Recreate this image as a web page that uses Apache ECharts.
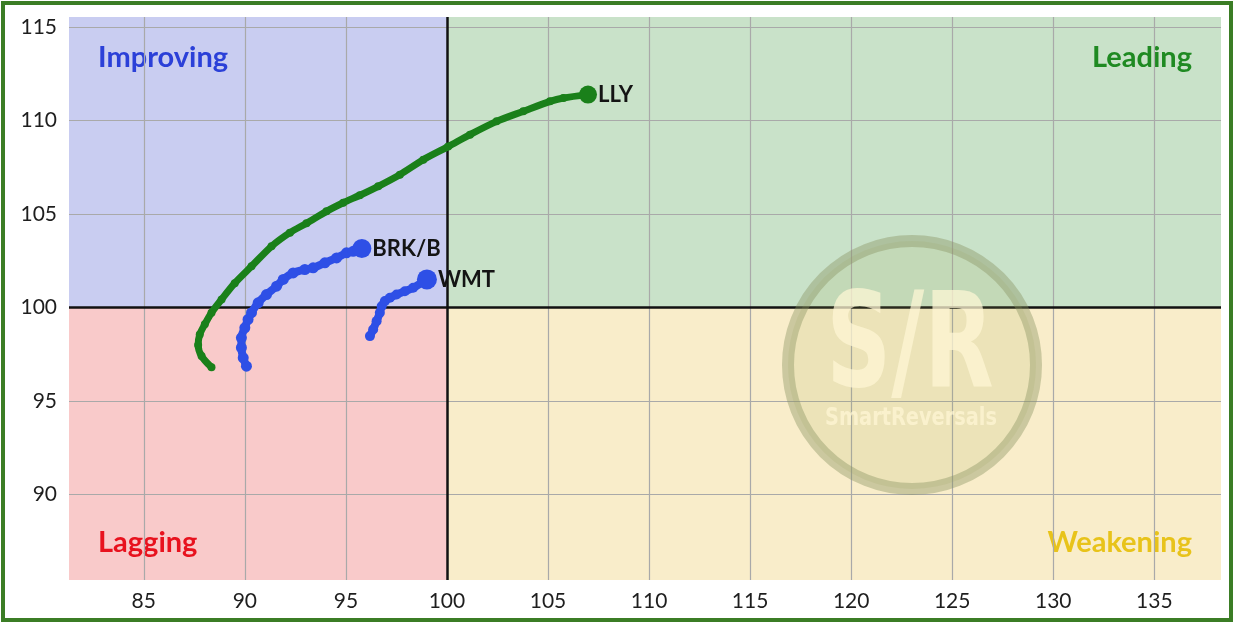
<!DOCTYPE html>
<html>
<head>
<meta charset="utf-8">
<script src="https://cdn.jsdelivr.net/npm/echarts@6/dist/echarts.min.js"></script>
<style>
html,body{margin:0;padding:0;background:#fff;}
#chart{width:1234px;height:624px;}
</style>
</head>
<body>
<div id="chart"></div>
<script>
// ---- data ----
const xTicks = [85, 90, 95, 100, 105, 110, 115, 120, 125, 130, 135];
const yTicks = [90, 95, 100, 105, 110, 115];
const quadrantNames = ['Improving', 'Leading', 'Lagging', 'Weakening'];
const center = 100;

const llyX = [88.35, 87.86, 87.69, 87.77, 88.02, 88.35, 88.85, 89.5, 90.33, 91.32, 92.23, 93.05, 94.04, 94.87, 95.69, 96.6, 97.67, 98.83, 100.06, 101.14, 102.46, 103.78, 105.1, 105.76, 106.98];
const llyY = [96.8, 97.4, 98.0, 98.56, 99.1, 99.72, 100.43, 101.3, 102.2, 103.27, 104.0, 104.5, 105.14, 105.6, 106.0, 106.48, 107.1, 107.9, 108.6, 109.24, 109.95, 110.49, 111.02, 111.2, 111.38];

const brkX = [90.08, 89.92, 89.83, 89.83, 90.0, 90.16, 90.33, 90.66, 91.07, 91.57, 91.9, 92.39, 92.97, 93.38, 93.96, 94.54, 95.03, 95.36, 95.79];
const brkY = [96.86, 97.31, 97.85, 98.38, 98.91, 99.36, 99.72, 100.25, 100.69, 101.14, 101.5, 101.85, 102.03, 102.12, 102.39, 102.65, 102.92, 103.0, 103.15];

const wmtX = [96.19, 96.35, 96.52, 96.68, 96.77, 96.93, 97.18, 97.51, 97.92, 98.33, 99.01];
const wmtY = [98.47, 98.82, 99.27, 99.72, 100.07, 100.34, 100.52, 100.69, 100.87, 101.05, 101.5];

// ---- axis extents (layout) ----
const X_MIN = 81.3, X_MAX = 138.3, Y_MIN = 85.43, Y_MAX = 115.53;
const FONT = 'Lato, "Noto Sans", sans-serif';

function pairs(xs, ys) { return xs.map((x, i) => [x, ys[i]]); }

function trail(name, xs, ys, color, lw, dot, endDot, smooth) {
  const d = pairs(xs, ys);
  return {
    type: 'line', name: name, z: 5, smooth: smooth,
    data: d.map((p, i) => i === d.length - 1 ? {
      value: p, symbolSize: endDot,
      label: { show: true, position: 'right', distance: 1, formatter: name,
        color: '#141414', fontFamily: FONT, fontWeight: 'bold', fontSize: 22 }
    } : { value: p }),
    symbol: 'circle', symbolSize: dot, showSymbol: true,
    lineStyle: { color: color, width: lw },
    itemStyle: { color: color },
    emphasis: { disabled: true },
    animation: false
  };
}

const qColors = {
  Improving: { bg: '#c9cdf1', fg: '#2b40d8' },
  Leading: { bg: '#c9e2c9', fg: '#1f8a22' },
  Lagging: { bg: '#f9caca', fg: '#e8121e' },
  Weakening: { bg: '#f9edca', fg: '#e8c31a' }
};
const qLabelBase = { show: true, fontFamily: FONT, fontWeight: 'bold', fontSize: 29, distance: 29 };

const chart = echarts.init(document.getElementById('chart'), null, { renderer: 'canvas' });
chart.setOption({
  animation: false,
  backgroundColor: '#ffffff',
  grid: { left: 69, right: 13, top: 17, bottom: 44, containLabel: false },
  xAxis: {
    type: 'value', min: X_MIN, max: X_MAX,
    axisLine: { show: false }, axisTick: { show: false }, splitLine: { show: false },
    axisLabel: { customValues: xTicks, color: '#1e1e1e', fontFamily: FONT, fontSize: 21, margin: 11 }
  },
  yAxis: {
    type: 'value', min: Y_MIN, max: Y_MAX,
    axisLine: { show: false }, axisTick: { show: false }, splitLine: { show: false },
    axisLabel: { customValues: yTicks, color: '#1e1e1e', fontFamily: FONT, fontSize: 21, margin: 12 }
  },
  series: [
    {
      type: 'scatter', data: [], z: 1, silent: true,
      markArea: {
        silent: true,
        data: [
          [{ coord: [X_MIN, center], itemStyle: { color: qColors.Improving.bg },
             label: Object.assign({}, qLabelBase, { position: 'insideTopLeft', color: qColors.Improving.fg, formatter: quadrantNames[0], offset: [0, -3] }) },
           { coord: [center, Y_MAX] }],
          [{ coord: [center, center], itemStyle: { color: qColors.Leading.bg },
             label: Object.assign({}, qLabelBase, { position: 'insideTopRight', color: qColors.Leading.fg, formatter: quadrantNames[1], offset: [0, -3] }) },
           { coord: [X_MAX, Y_MAX] }],
          [{ coord: [X_MIN, Y_MIN], itemStyle: { color: qColors.Lagging.bg },
             label: Object.assign({}, qLabelBase, { position: 'insideBottomLeft', color: qColors.Lagging.fg, formatter: quadrantNames[2], offset: [0, 6] }) },
           { coord: [center, center] }],
          [{ coord: [center, Y_MIN], itemStyle: { color: qColors.Weakening.bg },
             label: Object.assign({}, qLabelBase, { position: 'insideBottomRight', color: qColors.Weakening.fg, formatter: quadrantNames[3], offset: [0, 6] }) },
           { coord: [X_MAX, center] }]
        ]
      }
    },
    {
      type: 'scatter', data: [], z: 2, silent: true,
      markLine: {
        silent: true, symbol: ['none', 'none'], label: { show: false },
        lineStyle: { color: '#a9a9a9', width: 1.2, type: 'solid' },
        data: xTicks.filter(v => v !== center).map(v => ({ xAxis: v }))
          .concat(yTicks.filter(v => v !== center).map(v => ({ yAxis: v })))
      }
    },
    {
      type: 'scatter', data: [], z: 3, silent: true,
      markLine: {
        silent: true, symbol: ['none', 'none'], label: { show: false },
        lineStyle: { color: '#111', width: 2.5, type: 'solid' },
        data: [{ xAxis: center }, { yAxis: center }]
      }
    },
    trail('LLY', llyX, llyY, '#1a801a', 7, 8, 18, 0.3),
    trail('BRK/B', brkX, brkY, '#2e4fe6', 8, 11, 19, 0.3),
    trail('WMT', wmtX, wmtY, '#2e4fe6', 8, 10, 20, 0.3)
  ],
  graphic: [
    { type: 'circle', z: 50, silent: true, shape: { cx: 912, cy: 365, r: 124 },
      style: { fill: 'rgba(165,175,95,0.16)', stroke: 'rgba(135,145,95,0.4)', lineWidth: 12 } },
    { type: 'text', z: 51, silent: true, x: 910, y: 352, scaleX: 0.76,
      style: { text: 'S/R', fill: 'rgba(255,246,214,0.72)', font: 'bold 132px "DejaVu Sans Condensed", "DejaVu Sans", sans-serif',
        align: 'center', verticalAlign: 'middle' } },
    { type: 'text', z: 51, silent: true, x: 911, y: 418, scaleX: 0.86,
      style: { text: 'SmartReversals', fill: 'rgba(255,246,214,0.72)', font: 'bold 25px "DejaVu Sans Condensed", "DejaVu Sans", sans-serif',
        align: 'center', verticalAlign: 'middle' } },
    { type: 'rect', z: 60, silent: true, shape: { x: 3, y: 3, width: 1228, height: 617 },
      style: { fill: 'none', stroke: '#3b7d25', lineWidth: 4 } }
  ]
});
</script>
</body>
</html>
